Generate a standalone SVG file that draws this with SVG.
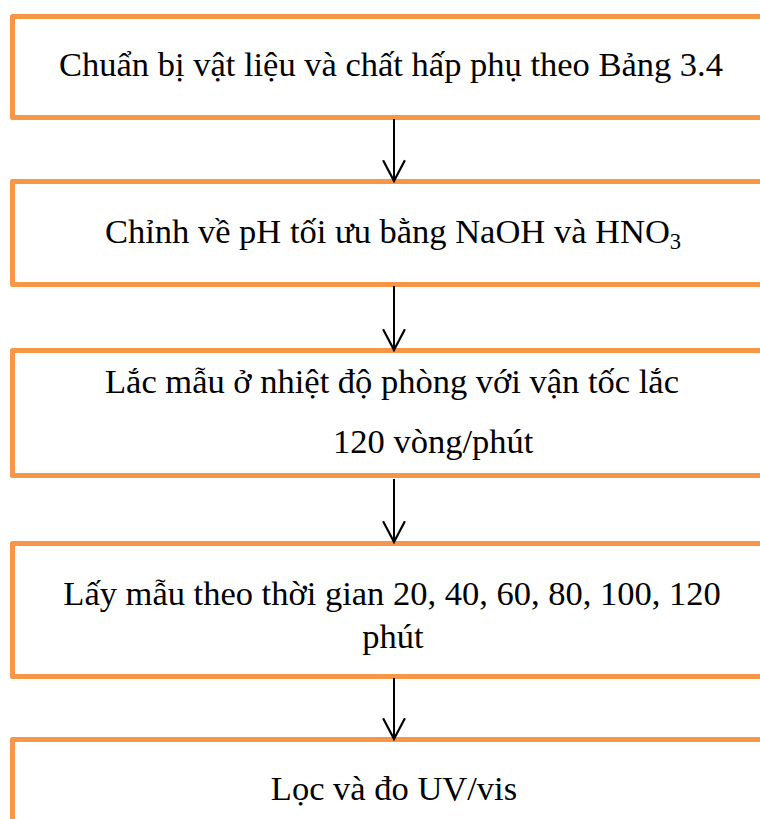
<svg xmlns="http://www.w3.org/2000/svg" width="760" height="819" viewBox="0 0 760 819">
  <style>
    .box { fill: #FFFFFF; stroke: #F79646; stroke-width: 5; stroke-linejoin: round; }
    .lbl { font-family: "Liberation Serif", "Times New Roman", serif; font-size: 34.5px; fill: #000000; }
    .mid { text-anchor: middle; }
    .conn { stroke: #000000; stroke-width: 2; fill: none; }
  </style>
  <defs>
    <!-- open V arrowhead, drawn along +x so orient="auto" follows the line -->
    <marker id="arrowOpen" markerUnits="userSpaceOnUse" markerWidth="24" markerHeight="24" refX="20" refY="11" orient="auto" viewBox="0 0 22 22">
      <path d="M1,1 L20,11 L1,21" fill="none" stroke="#000000" stroke-width="2"/>
    </marker>
  </defs>

  <rect width="760" height="819" fill="#FFFFFF"/>

  <g id="step1">
    <rect class="box" x="12.5" y="16.5" width="800" height="101"/>
    <text class="lbl mid" x="391" y="76">Chuẩn bị vật liệu và chất hấp phụ theo Bảng 3.4</text>
  </g>

  <g id="step2">
    <rect class="box" x="12.5" y="181.5" width="800" height="103"/>
    <text class="lbl mid" x="393" y="243">Chỉnh về pH tối ưu bằng NaOH và HNO<tspan font-size="22.5" dy="6">3</tspan></text>
  </g>

  <g id="step3">
    <rect class="box" x="12.5" y="350.5" width="800" height="125"/>
    <text class="lbl mid" x="392" y="393">Lắc mẫu ở nhiệt độ phòng với vận tốc lắc</text>
    <text class="lbl" x="333" y="453">120 vòng/phút</text>
  </g>

  <g id="step4">
    <rect class="box" x="12.5" y="543.5" width="800" height="133"/>
    <text class="lbl mid" x="392" y="605">Lấy mẫu theo thời gian 20, 40, 60, 80, 100, 120</text>
    <text class="lbl mid" x="393" y="648">phút</text>
  </g>

  <g id="step5">
    <rect class="box" x="12.5" y="739.5" width="800" height="120"/>
    <text class="lbl mid" x="394" y="800">Lọc và đo UV/vis</text>
  </g>

  <g id="connectors">
    <line class="conn" x1="394" y1="119" x2="394" y2="181" marker-end="url(#arrowOpen)"/>
    <line class="conn" x1="394" y1="286" x2="394" y2="350" marker-end="url(#arrowOpen)"/>
    <line class="conn" x1="394" y1="479" x2="394" y2="542" marker-end="url(#arrowOpen)"/>
    <line class="conn" x1="394" y1="678" x2="394" y2="739" marker-end="url(#arrowOpen)"/>
  </g>
</svg>
